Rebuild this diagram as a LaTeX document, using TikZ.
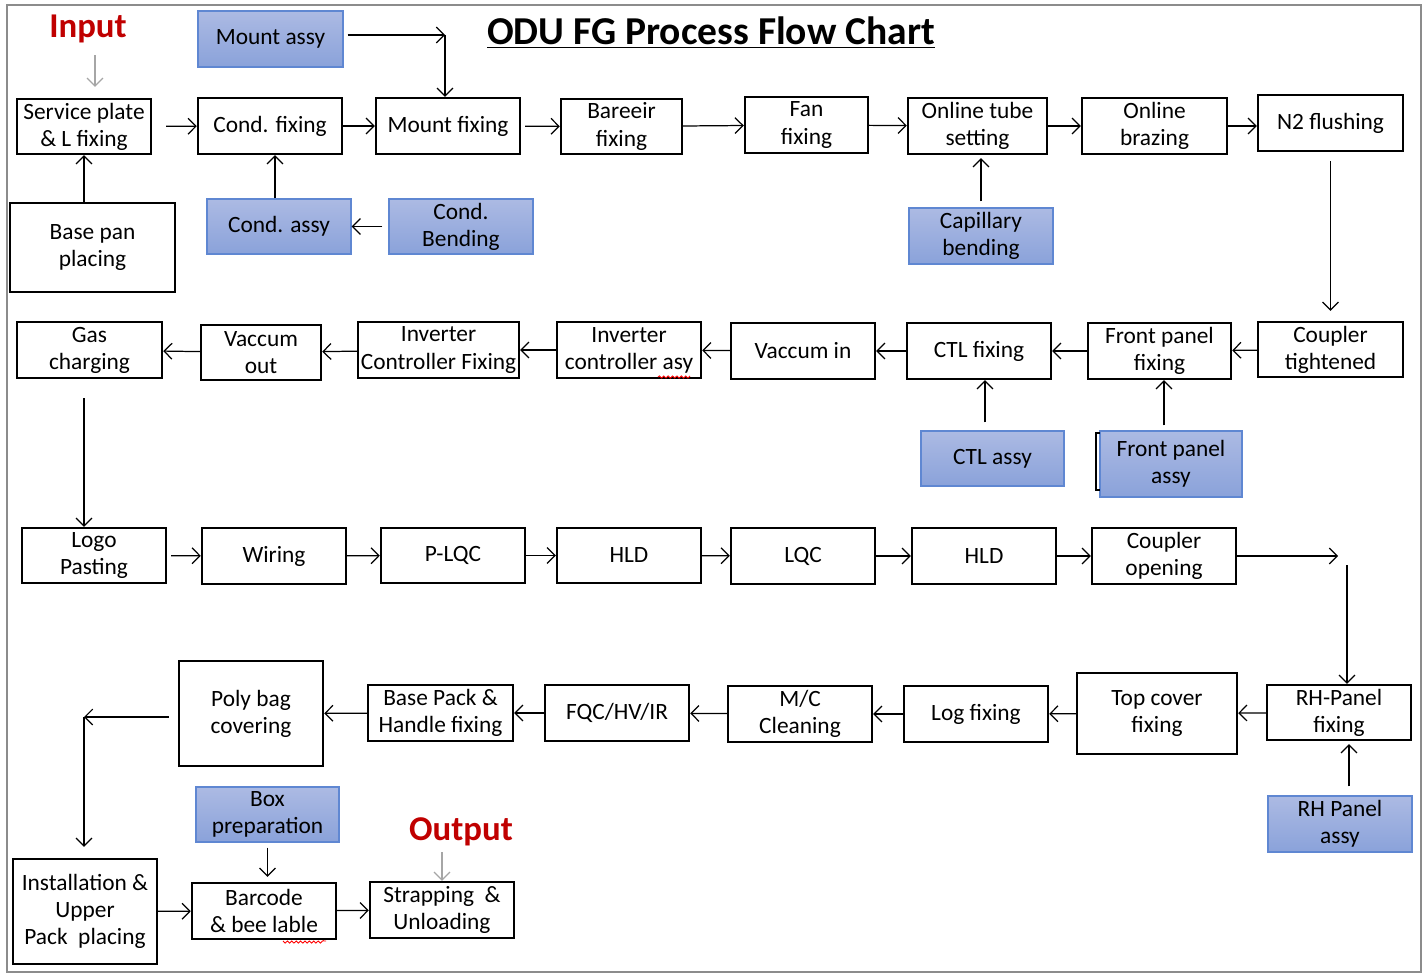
\documentclass[tikz,border=0pt]{standalone}
\usepackage{fontspec}
\setmainfont{Carlito}
\usetikzlibrary{arrows.meta, decorations.pathmorphing}
\definecolor{partedge}{RGB}{95,135,210}
\definecolor{parttop}{RGB}{172,186,227}
\definecolor{partbottom}{RGB}{138,162,218}
\definecolor{tagred}{RGB}{192,0,0}

\begin{document}
\begin{tikzpicture}[
x=0.02cm,
y=-0.02cm,
font=\fontsize{13.3}{15.4}\selectfont,
procbox/.style={
rectangle,
draw,
line width=1.4pt,
align=center,
inner sep=1pt,
minimum width=2.88cm,
minimum height=1.12cm,
},
partbox/.style={
procbox,
line width=0.7pt,
draw=partedge,
top color=parttop,
bottom color=partbottom,
},
flow/.style={
line width=0.7pt,
-{Straight Barb[length=4.5pt, width=9pt]},
},
pointer/.style={
flow,
draw=black!35,
},
tag/.style={
font=\fontsize{19.8}{22}\selectfont\bfseries,
text=tagred,
}
]

% frame
\useasboundingbox (0,0) rectangle (1424,973);
\draw [black!45, line width=1pt] (7,5) rectangle (1421,972);

% title and tags
\node [font=\fontsize{22.5}{26}\selectfont\bfseries] at (711,33) (title)
{\underline{ODU FG Process Flow Chart}};
\node [tag] at (88,29) (inlbl) {Input};
\node [tag] at (461,832) (outlbl) {Output};

% first row
\node [procbox, minimum width=2.68cm, minimum height=1.1cm] at (84,126.5) (sp) {Service plate\\\& L fixing};
\node [procbox] at (270,126) (cf) {Cond. fixing};
\node [procbox] at (448,126) (mf) {Mount fixing};
\node [procbox, minimum width=2.42cm, minimum height=1.1cm] at (621.5,126.5) (bf) {Bareeir\\fixing};
\node [procbox, minimum width=2.46cm] at (806.5,125) (ff) {Fan\\fixing};
\node [procbox, minimum width=2.78cm] at (977.5,126) (ots) {Online tube\\setting};
\node [procbox, minimum width=2.9cm] at (1154.5,126) (ob) {Online\\brazing};
\node [procbox, minimum width=2.9cm] at (1330.5,123) (n2) {N2 flushing};

% parts for the first row
\node [procbox, minimum width=3.3cm, minimum height=1.78cm] at (92.5,247.5) (bpp) {Base pan\\placing};
\node [partbox, minimum width=2.9cm] at (270.5,39) (ma) {Mount assy};
\node [partbox, minimum height=1.1cm] at (279,226.5) (ca) {Cond. assy};
\node [partbox, minimum height=1.1cm] at (461,226.5) (cb) {Cond.\\Bending};
\node [partbox] at (981,236) (cap) {Capillary\\bending};

% second row
\node [procbox, minimum width=2.9cm] at (89.5,350) (gas) {Gas\\charging};
\node [procbox, minimum width=2.4cm, minimum height=1.1cm] at (261,352.5) (vout) {Vaccum\\out};
\node [procbox, minimum width=3.22cm] at (438.5,350) (icf) {Inverter\\Controller Fixing};
\node [procbox] at (629,350) (ica) {Inverter\\controller asy};
\node [procbox] at (803,351) (vin) {Vaccum in};
\node [procbox] at (979,351) (ctl) {CTL fixing};
\node [procbox, minimum width=2.86cm] at (1159.5,351) (fpf) {Front panel\\fixing};
\node [procbox, minimum width=2.9cm, minimum height=1.1cm] at (1330.5,349.5) (ct) {Coupler\\tightened};
\node [partbox, minimum width=2.86cm, minimum height=1.1cm] at (992.5,458.5) (ctla) {CTL assy};
\node [partbox, minimum width=2.84cm, minimum height=1.32cm] at (1171,464) (fpa) {Front panel\\assy};
\draw [line width=1.2pt] (1100,433) -- (1096,433) -- (1096,490) -- (1100,490);

% third row
\node [procbox, minimum height=1.1cm] at (94,555.5) (logo) {Logo\\Pasting};
\node [procbox] at (274,556) (wir) {Wiring};
\node [procbox, minimum height=1.1cm] at (453,555.5) (plqc) {P-LQC};
\node [procbox, minimum height=1.1cm] at (629,555.5) (hlda) {HLD};
\node [procbox] at (803,556) (lqc) {LQC};
\node [procbox] at (984,556) (hldb) {HLD};
\node [procbox] at (1164,556) (co) {Coupler\\opening};

% fourth row
\node [procbox, minimum height=2.1cm] at (251,713.5) (poly) {Poly bag\\covering};
\node [procbox, minimum width=2.9cm] at (440.5,713) (bph) {Base Pack \&\\Handle fixing};
\node [procbox] at (617,713) (fqc) {FQC/HV/IR};
\node [procbox] at (800,714) (mc) {M/C\\Cleaning};
\node [procbox] at (976,714) (logf) {Log fixing};
\node [procbox, minimum width=3.2cm, minimum height=1.62cm] at (1157,713.5) (tc) {Top cover\\fixing};
\node [procbox, minimum height=1.1cm] at (1339,712.5) (rhf) {RH-Panel\\fixing};
\node [partbox] at (1340,824) (rha) {RH Panel\\assy};

% last row
\node [partbox, minimum width=2.86cm, minimum height=1.1cm] at (267.5,814.5) (boxp) {Box\\preparation};
\node [procbox, minimum height=2.1cm] at (85,911.5) (inst) {Installation \&\\Upper\\Pack\ \ placing};
\node [procbox] at (264,911) (bar) {Barcode\\\& bee lable};
\node [procbox] at (442,910) (strap) {Strapping\ \ \&\\Unloading};

% spelling marks
\draw [red, line width=0.5pt, decorate, decoration={snake, amplitude=0.6pt, segment length=2.5pt}]
(658,377) -- (690,377)
(283,941) -- (326,941)
;

% turning points
\path
(445,35) coordinate(mturn)
(1338,556) coordinate(coend)
(1347,565) coordinate(rhtop)
(84,717) coordinate(polyturn)
;
\path
([xshift=0.1cm]cf.south) coordinate(cfin)
([xshift=0.12cm]ctl.south) coordinate(ctlin)
([xshift=0.09cm]fpf.south) coordinate(fpfin)
([xshift=0.2cm]rhf.south) coordinate(rhfin)
([xshift=-0.11cm]gas.south) coordinate(gasout)
([xshift=0.14cm]inlbl.south) coordinate(inend)
;

% main flow
\draw [flow, shorten <=0.28cm] (sp) -- (cf);
\draw [flow] (cf) -- (mf);
\draw [flow, shorten <=0.08cm] (mf) -- (bf);
\draw [flow] (bf) -- (ff);
\draw [flow] (ff) -- (ots);
\draw [flow] (ots) -- (ob);
\draw [flow] (ob) -- (ob -| n2.west);
\draw [flow, shorten <=0.18cm, shorten >=0.2cm] (n2) -- (ct);
\draw [flow] (ct) -- (fpf);
\draw [flow] (fpf) -- (ctl);
\draw [flow] (ctl) -- (vin);
\draw [flow] (vin) -- (ica);
\draw [flow] (ica) -- (icf);
\draw [flow] (icf) -- (vout);
\draw [flow] (vout) -- (gas);
\draw [flow, shorten <=0.38cm] (gasout) -- (gasout |- logo.north);
\draw [flow, shorten <=0.08cm] (logo) -- (wir);
\draw [flow] (wir) -- (plqc);
\draw [flow] (plqc) -- (hlda);
\draw [flow] (hlda) -- (lqc);
\draw [flow] (lqc) -- (hldb);
\draw [flow] (hldb) -- (co);
\draw [flow] (co) -- (coend);
\draw [flow] (rhtop) -- (rhtop |- rhf.north);
\draw [flow] (rhf) -- (tc);
\draw [flow] (tc) -- (logf);
\draw [flow] (logf) -- (mc);
\draw [flow] (mc) -- (fqc);
\draw [flow] (fqc) -- (bph);
\draw [flow] (bph) -- (poly);
\draw [flow, shorten <=0.18cm] (poly.west |- polyturn) -- (polyturn);
\draw [flow, shorten >=0.22cm] (polyturn) -- (polyturn |- inst.north);
\draw [flow] (inst) -- (bar);
\draw [flow] (bar) -- (strap);

% parts joining the flow
\draw [flow] (sp.south |- bpp.north) -- (sp.south);
\draw [flow, shorten <=0.08cm] (ma.east |- mturn) -- (mturn);
\draw [flow] (mturn) -- (mturn |- mf.north);
\draw [flow, shorten <=0.12cm] (cb) -- (ca);
\draw [flow] (cfin |- ca.north) -- (cfin);
\draw [flow, shorten <=0.12cm, shorten >=0.06cm] (cap.north) -- (cap.north |- ots.south);
\draw [flow, shorten <=0.16cm] (ctlin |- ctla.north) -- (ctlin);
\draw [flow, shorten <=0.1cm] (fpfin |- fpa.north) -- (fpfin);
\draw [flow, shorten <=0.18cm, shorten >=0.06cm] (rhfin |- rha.north) -- (rhfin);
\draw [flow, shorten <=0.1cm, shorten >=0.1cm] (boxp.south) -- (boxp.south |- bar.north);

% input and output
\draw [pointer, shorten <=0.12cm, shorten >=0.22cm] (inend) -- (inend |- sp.north);
\draw [pointer] (outlbl.south -| strap.north) -- (strap.north);

\end{tikzpicture}
\end{document}
